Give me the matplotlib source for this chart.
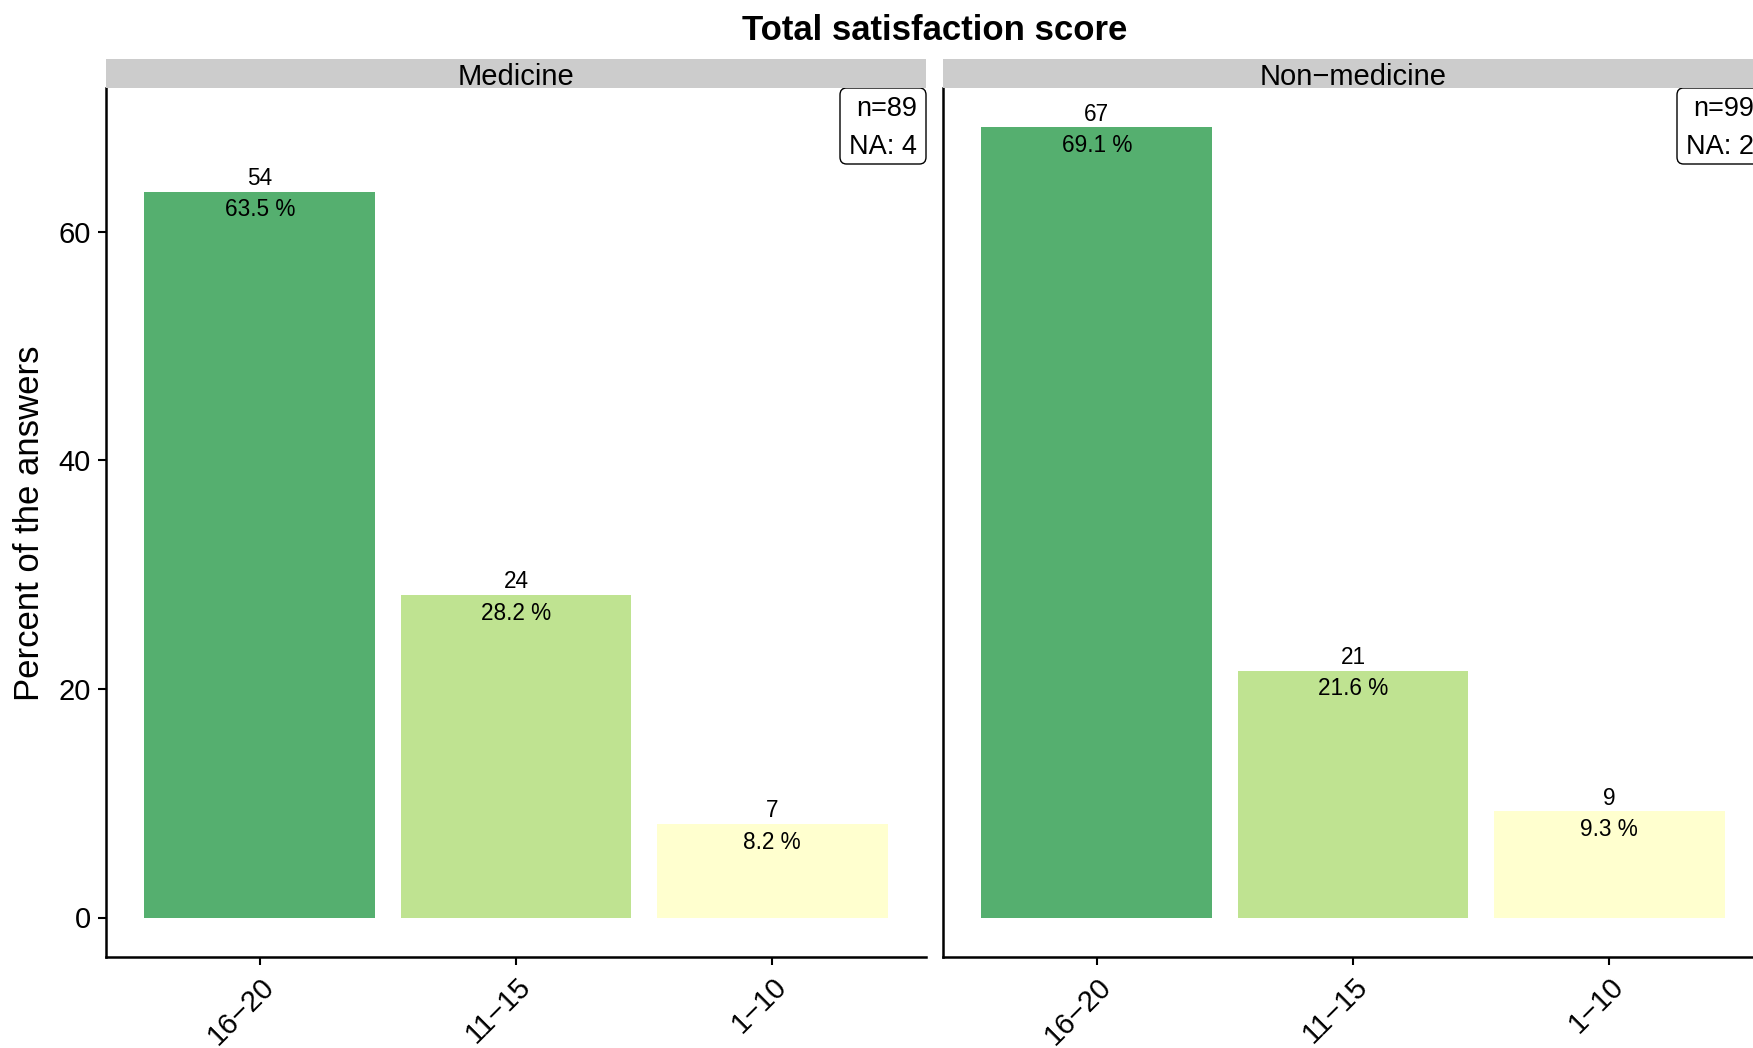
import numpy as np
import matplotlib
matplotlib.use("Agg")
import matplotlib.pyplot as plt
from matplotlib.patches import FancyBboxPatch

plt.rcParams["font.family"] = ["Liberation Sans", "DejaVu Sans"]

# data
categories = ["16\u221220", "11\u221215", "1\u221210"]
panels = ["Medicine", "Non\u2212medicine"]
percents = {
    "Medicine": [63.5, 28.2, 8.2],
    "Non\u2212medicine": [69.1, 21.6, 9.3],
}
counts = {
    "Medicine": [54, 24, 7],
    "Non\u2212medicine": [67, 21, 9],
}
n_total = [89, 99]
n_missing = [4, 2]

colors = ["#55AF6F", "#BFE391", "#FFFFCF"]
W, H = 1753, 1048
fig = plt.figure(figsize=(W / 100, H / 100), dpi=100)

ymax = max(max(v) for v in percents.values())
ylim = (-0.05 * ymax, 1.05 * ymax)

PW, PH = 820, 869  # panel size in pixels
panel_w = PW / W
ax_bottom = 91 / H
ax_h = PH / H
lefts = [106 / W, 943 / W]
x = np.arange(len(categories))

for i, name in enumerate(panels):
    ax = fig.add_axes([lefts[i], ax_bottom, panel_w, ax_h])
    vals = percents[name]
    ax.bar(x, vals, width=0.9, color=colors, linewidth=0)
    for xi, v, c in zip(x, vals, counts[name]):
        ax.annotate(str(c), (xi, v), xytext=(0, 1.2), textcoords="offset points",
                    ha="center", va="bottom", fontsize=16.3)
        ax.annotate(f"{v} %", (xi, v), xytext=(0, -5), textcoords="offset points",
                    ha="center", va="top", fontsize=16.3)

    # n / NA label box in the top-right corner
    box = FancyBboxPatch((1 - 86 / PW, 1 - 76 / PH), 86 / PW, 76 / PH,
                         boxstyle="round,pad=0,rounding_size=0.008",
                         transform=ax.transAxes, fc="white", ec="black", lw=1.0,
                         clip_on=False, zorder=4)
    ax.add_patch(box)
    ax.text(1 - 9 / PW, 1 - 28 / PH, f"n={n_total[i]}", transform=ax.transAxes,
            ha="right", va="baseline", fontsize=19.5, zorder=5, clip_on=False)
    ax.text(1 - 9 / PW, 1 - 66 / PH, f"NA: {n_missing[i]}", transform=ax.transAxes,
            ha="right", va="baseline", fontsize=19.5, zorder=5, clip_on=False)

    ax.set_xlim(-0.6, len(categories) - 0.4)
    ax.set_ylim(*ylim)
    ax.set_xticks(x)
    ax.set_xticklabels(categories, rotation=45, ha="right", va="top",
                       rotation_mode="anchor", fontsize=21)
    ax.set_yticks([0, 20, 40, 60])
    for s in ["top", "right"]:
        ax.spines[s].set_visible(False)
    for s in ["left", "bottom"]:
        ax.spines[s].set_linewidth(1.8)
    ax.tick_params(axis="both", width=1.5, length=6, labelsize=21, pad=5)
    if i == 0:
        ax.set_yticklabels(["0", "20", "40", "60"])
    else:
        ax.tick_params(axis="y", left=False, labelleft=False)

    # facet strip
    sax = fig.add_axes([lefts[i], ax_bottom + ax_h, panel_w, 29 / H])
    sax.set_facecolor("#CCCCCC")
    sax.set_xticks([])
    sax.set_yticks([])
    for s in sax.spines.values():
        s.set_visible(False)
    sax.text(0.5, 0.37, name, ha="center", va="center", fontsize=21,
             transform=sax.transAxes)

fig.text(935 / W, 1 - 30 / H, "Total satisfaction score", ha="center", va="center",
         fontsize=25, fontweight="bold")
fig.text(30 / W, 525 / H, "Percent of the answers", ha="center", va="center",
         rotation=90, fontsize=25)

fig.savefig("out.png", dpi=100)
